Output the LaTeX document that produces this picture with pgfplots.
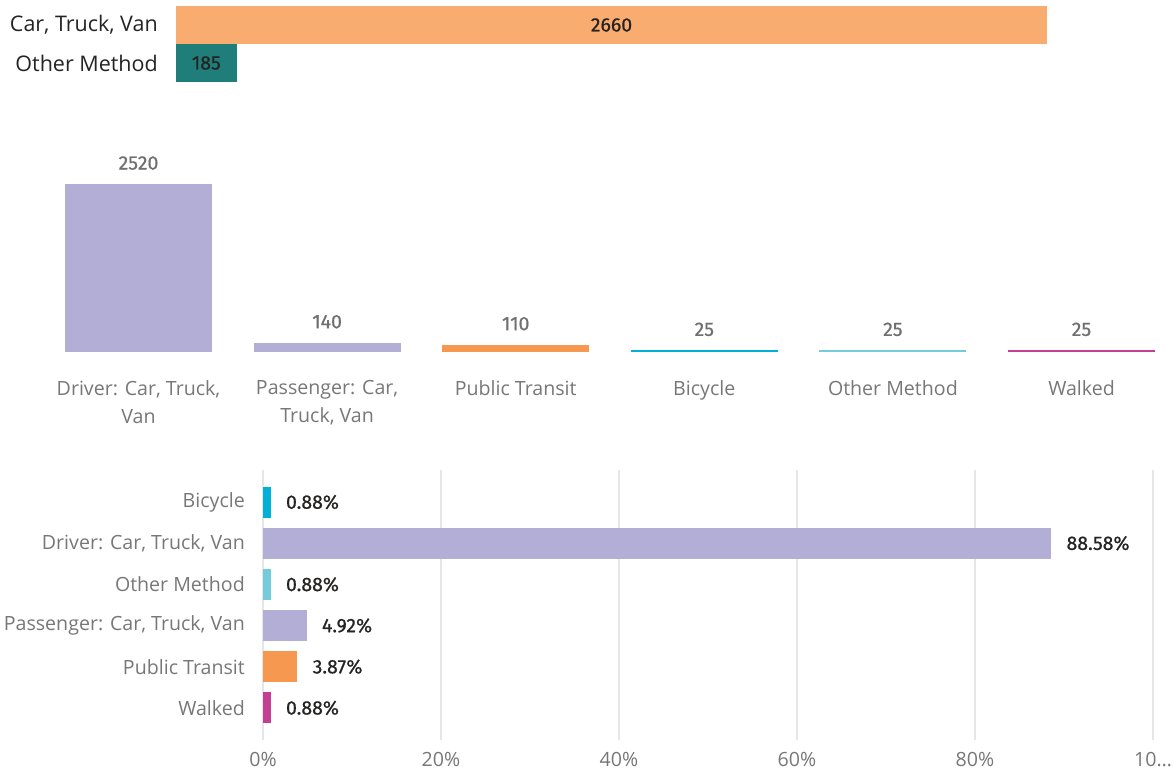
\documentclass[border=0pt]{standalone}
\usepackage{pgfplots}
\pgfplotsset{compat=1.18}
\usepackage{fontspec}
\setmainfont{Open Sans}
\newfontfamily\din{Fira Sans}[FakeBold=0.7]
\definecolor{orangeA}{HTML}{F8AC6F}
\definecolor{tealA}{HTML}{1F7E7A}
\definecolor{lav}{HTML}{B3AED6}
\definecolor{orangeB}{HTML}{F79850}
\definecolor{cyanA}{HTML}{00B0D8}
\definecolor{cyanB}{HTML}{74CCDA}
\definecolor{mag}{HTML}{C43E91}
\definecolor{dark}{HTML}{252423}
\definecolor{labgray}{HTML}{777777}
\definecolor{numgray}{HTML}{707070}
\definecolor{gridg}{HTML}{E6E6E6}
\begin{document}
\begin{tikzpicture}[x=1pt,y=1pt]
\path[use as bounding box] (0,0) rectangle (1174,773);
% ---------- Panel 1 ----------
\begin{axis}[at={(176pt,691pt)}, anchor=south west, scale only axis,
  width=871pt, height=76pt, xmin=0, xmax=2660, ymin=-0.5, ymax=1.5,
  axis line style={draw=none}, major tick length=0pt, xtick=\empty,
  ytick={0,1}, yticklabels={Other Method,{Car, Truck, Van}},
  yticklabel style={anchor=east, inner sep=0pt, xshift=-18pt, text=dark,
    font=\fontsize{21.5}{26}\selectfont},
  clip=false]
\addplot[xbar, bar shift=0pt, bar width=38pt, fill=orangeA, draw=none] coordinates {(2660,1)};
\addplot[xbar, bar shift=0pt, bar width=38pt, fill=tealA, draw=none] coordinates {(185,0)};
\node[text=dark, font=\din\fontsize{19.5}{22}\selectfont] at (axis cs:1330,1) {2660};
\node[text=dark, font=\din\fontsize{19.5}{22}\selectfont] at (axis cs:92.5,0) {185};
\end{axis}
% ---------- Panel 2 ----------
\begin{axis}[at={(44.2pt,421pt)}, anchor=south west, scale only axis,
  width=1131.6pt, height=168pt, xmin=-0.5, xmax=5.5, ymin=0, ymax=2520,
  axis line style={draw=none}, major tick length=0pt, ytick=\empty,
  xtick={0,1,2,3,4,5},
  xticklabels={{Driver: Car, Truck,\\Van},{Passenger: Car,\\Truck, Van},{Public Transit},{Bicycle},{Other Method},{Walked}},
  xticklabel style={anchor=north, align=center, inner sep=0pt, yshift=-28pt, text=labgray,
    font=\fontsize{19.6}{28}\selectfont},
  point meta=explicit symbolic,
  nodes near coords,
  every node near coord/.append style={anchor=south, inner sep=0pt, yshift=14pt,
    text=numgray, font=\din\fontsize{19.5}{22}\selectfont},
  clip=false]
\addplot[ybar, bar shift=0pt, bar width=147pt, fill=lav, draw=none] coordinates {(0,2520)[2520]};
\addplot[ybar, bar shift=0pt, bar width=147pt, fill=lav, draw=none] coordinates {(1,140)[140]};
\addplot[ybar, bar shift=0pt, bar width=147pt, fill=orangeB, draw=none] coordinates {(2,110)[110]};
\addplot[ybar, bar shift=0pt, bar width=147pt, fill=cyanA, draw=none] coordinates {(3,25)[25]};
\addplot[ybar, bar shift=0pt, bar width=147pt, fill=cyanB, draw=none] coordinates {(4,25)[25]};
\addplot[ybar, bar shift=0pt, bar width=147pt, fill=mag, draw=none] coordinates {(5,25)[25]};
\end{axis}
% ---------- Panel 3 ----------
\begin{axis}[at={(263pt,33pt)}, anchor=south west, scale only axis,
  width=890pt, height=270pt, xmin=0, xmax=100, ymin=-0.78, ymax=5.78,
  axis line style={draw=none}, major tick length=0pt,
  xtick={0,20,40,60,80,100},
  xticklabels={0\%,20\%,40\%,60\%,80\%,{10\dots}},
  xmajorgrids, grid style={color=gridg, line width=1.3pt},
  xticklabel style={anchor=north, inner sep=0pt, yshift=-12pt, text=labgray,
    font=\fontsize{19.6}{23}\selectfont},
  ytick={0,1,2,3,4,5},
  yticklabels={Walked,Public Transit,{Passenger: Car, Truck, Van},Other Method,{Driver: Car, Truck, Van},Bicycle},
  yticklabel style={anchor=east, inner sep=0pt, xshift=-18pt, text=labgray,
    font=\fontsize{19.6}{23}\selectfont},
  point meta=explicit symbolic,
  nodes near coords,
  every node near coord/.append style={anchor=west, inner sep=0pt, xshift=15pt,
    text=dark, font=\din\fontsize{19.5}{22}\selectfont},
  clip=false]
\addplot[xbar, bar shift=0pt, bar width=31pt, fill=cyanA, draw=none] coordinates {(0.88,5)[0.88\%]};
\addplot[xbar, bar shift=0pt, bar width=31pt, fill=lav, draw=none] coordinates {(88.58,4)[88.58\%]};
\addplot[xbar, bar shift=0pt, bar width=31pt, fill=cyanB, draw=none] coordinates {(0.88,3)[0.88\%]};
\addplot[xbar, bar shift=0pt, bar width=31pt, fill=lav, draw=none] coordinates {(4.92,2)[4.92\%]};
\addplot[xbar, bar shift=0pt, bar width=31pt, fill=orangeB, draw=none] coordinates {(3.87,1)[3.87\%]};
\addplot[xbar, bar shift=0pt, bar width=31pt, fill=mag, draw=none] coordinates {(0.88,0)[0.88\%]};
\end{axis}
\end{tikzpicture}
\end{document}
